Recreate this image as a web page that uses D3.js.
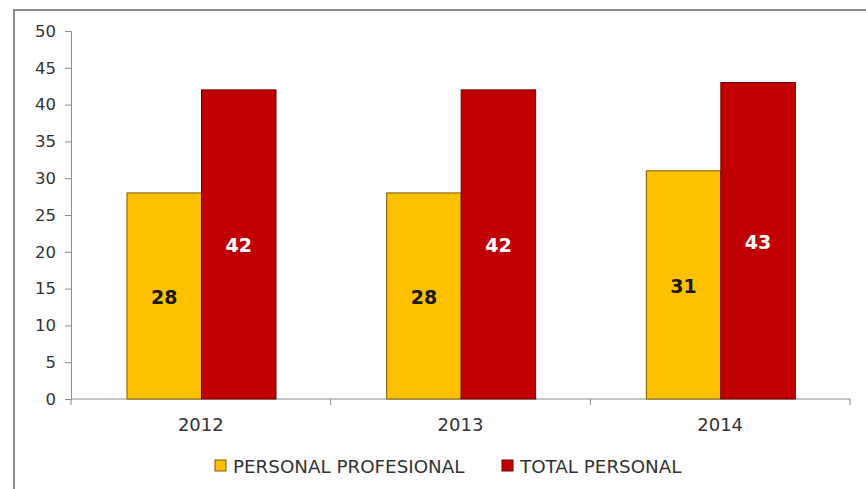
<!DOCTYPE html>
<html>
<head>
<meta charset="utf-8">
<script src="https://cdn.jsdelivr.net/npm/d3@7"></script>
<style>
  body { margin: 0; background: #fff; }
  text { font-family: "DejaVu Sans", sans-serif; }
</style>
</head>
<body>
<svg id="chart" width="866" height="489"></svg>
<script>
const years = ["2012", "2013", "2014"];
const series = ["PERSONAL PROFESIONAL", "TOTAL PERSONAL"];
const profesional = [28, 28, 31];
const total = [42, 42, 43];
const yTicks = [0, 5, 10, 15, 20, 25, 30, 35, 40, 45, 50];

const colors = ["#FFC000", "#C00000"];
const strokes = ["#7a5a00", "#6a0000"];
const labelColors = ["#1a1a1a", "#ffffff"];

const svg = d3.select("#chart");

// outer frame (only top and left are visible in the crop)
svg.append("path")
  .attr("d", "M14,489 L14,10 L866,10")
  .attr("fill", "none").attr("stroke", "#8c8c8c").attr("stroke-width", 2);

const x = d3.scaleBand().domain(years).range([71, 850]);
const inner = d3.scaleBand().domain(series).range([56, 205]);
const y = d3.scaleLinear().domain([0, 50]).range([399, 31]);

// y axis
const yAxis = svg.append("g").attr("transform", "translate(71,0)")
  .call(d3.axisLeft(y).tickValues(yTicks).tickSize(6).tickPadding(9));
yAxis.select(".domain").attr("stroke", "#8c8c8c");
yAxis.selectAll(".tick line").attr("stroke", "#8c8c8c");
yAxis.selectAll(".tick text").attr("font-size", 16.5).attr("fill", "#333")
  .style("font-family", "'DejaVu Sans', sans-serif");

// x axis with ticks at band boundaries
const xg = svg.append("g").attr("transform", "translate(0,399)");
xg.append("line").attr("x1", 71).attr("x2", 850).attr("stroke", "#8c8c8c");
xg.selectAll("line.tk").data([71, ...years.map(d => x(d) + x.bandwidth())])
  .join("line").attr("class", "tk")
  .attr("x1", d => d).attr("x2", d => d).attr("y1", 0).attr("y2", 6)
  .attr("stroke", "#8c8c8c");
xg.selectAll("text").data(years).join("text")
  .attr("x", d => x(d) + x.bandwidth() / 2).attr("y", 32)
  .attr("text-anchor", "middle").attr("font-size", 18).attr("fill", "#333")
  .text(d => d);

const rows = years.map((yr, i) => ({ year: yr, values: [profesional[i], total[i]] }));

const groups = svg.append("g").selectAll("g").data(rows).join("g")
  .attr("transform", d => `translate(${x(d.year)},0)`);

groups.selectAll("rect").data(d => d.values.map((v, k) => ({ v, k })))
  .join("rect")
  .attr("x", d => inner(series[d.k]))
  .attr("width", inner.bandwidth())
  .attr("y", d => y(d.v))
  .attr("height", d => y(0) - y(d.v))
  .attr("fill", d => colors[d.k])
  .attr("stroke", d => strokes[d.k]).attr("stroke-width", 1);

groups.selectAll("text.val").data(d => d.values.map((v, k) => ({ v, k })))
  .join("text").attr("class", "val")
  .attr("x", d => inner(series[d.k]) + inner.bandwidth() / 2)
  .attr("y", d => (y(d.v) + y(0)) / 2 + 1)
  .attr("dy", "0.36em")
  .attr("text-anchor", "middle").attr("font-size", 19).attr("font-weight", "bold")
  .attr("fill", d => labelColors[d.k])
  .text(d => d.v);

// legend
const legendX = [215, 502];
const legend = svg.append("g").selectAll("g").data(series).join("g")
  .attr("transform", (d, i) => `translate(${legendX[i]},460)`);
legend.append("rect").attr("width", 11).attr("height", 11)
  .attr("fill", (d, i) => colors[i]).attr("stroke", (d, i) => strokes[i]);
legend.append("text").attr("x", 18).attr("y", 6).attr("dy", "0.36em")
  .attr("font-size", 18.3).attr("fill", "#333").text(d => d);
</script>
</body>
</html>
